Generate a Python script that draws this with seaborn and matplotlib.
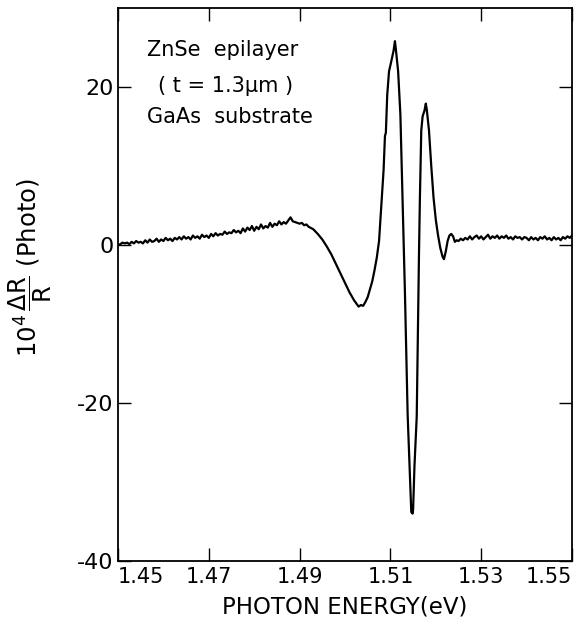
import matplotlib
matplotlib.use("Agg")
import matplotlib.pyplot as plt
import seaborn as sns
import pandas as pd

# ---- data ----
energy_eV = [
    1.4500, 1.4505, 1.4510, 1.4515, 1.4520, 1.4525, 1.4530, 1.4535, 1.4540, 1.4545,
    1.4550, 1.4555, 1.4560, 1.4565, 1.4570, 1.4575, 1.4580, 1.4585, 1.4590, 1.4595,
    1.4600, 1.4605, 1.4610, 1.4615, 1.4620, 1.4625, 1.4630, 1.4635, 1.4640, 1.4645,
    1.4650, 1.4655, 1.4660, 1.4665, 1.4670, 1.4675, 1.4680, 1.4685, 1.4690, 1.4695,
    1.4700, 1.4705, 1.4710, 1.4715, 1.4720, 1.4725, 1.4730, 1.4735, 1.4740, 1.4745,
    1.4750, 1.4755, 1.4760, 1.4765, 1.4770, 1.4775, 1.4780, 1.4785, 1.4790, 1.4795,
    1.4800, 1.4805, 1.4810, 1.4815, 1.4820, 1.4825, 1.4830, 1.4835, 1.4840, 1.4845,
    1.4850, 1.4855, 1.4860, 1.4865, 1.4870, 1.4875, 1.4880, 1.4885,
    1.4890, 1.4900, 1.4905, 1.4910, 1.4915, 1.4920, 1.4930, 1.4940, 1.4950, 1.4960, 1.4970,
    1.4980, 1.4990, 1.5000, 1.5010, 1.5020, 1.5030, 1.5035, 1.5040, 1.5045, 1.5050,
    1.5055, 1.5060, 1.5065, 1.5070, 1.5075, 1.5080, 1.5085, 1.5088, 1.5090, 1.5093,
    1.5097, 1.5101, 1.5107, 1.5110, 1.5112, 1.5117, 1.5122, 1.5127, 1.5132, 1.5138,
    1.5144, 1.5146, 1.5149, 1.5150, 1.5153, 1.5158, 1.5161, 1.5163, 1.5165, 1.5168,
    1.5171, 1.5175, 1.5178, 1.5180, 1.5185, 1.5190, 1.5195, 1.5200, 1.5205, 1.5210,
    1.5215, 1.5218, 1.5222, 1.5226, 1.5230, 1.5234, 1.5238, 1.5242, 1.5246, 1.5250,
    1.5255, 1.5260, 1.5265, 1.5270, 1.5275, 1.5280, 1.5285, 1.5290, 1.5295, 1.5300,
    1.5305, 1.5310, 1.5315, 1.5320, 1.5325, 1.5330, 1.5335, 1.5340, 1.5345, 1.5350,
    1.5355, 1.5360, 1.5365, 1.5370, 1.5375, 1.5380, 1.5385, 1.5390, 1.5395, 1.5400,
    1.5405, 1.5410, 1.5415, 1.5420, 1.5425, 1.5430, 1.5435, 1.5440, 1.5445, 1.5450,
    1.5455, 1.5460, 1.5465, 1.5470, 1.5475, 1.5480, 1.5485, 1.5490, 1.5495, 1.5500,
]
dR_over_R_1e4 = [
    0.0, 0.1, 0.3, 0.2, 0.3, 0.1, 0.4, 0.2, 0.5, 0.3,
    0.4, 0.2, 0.6, 0.3, 0.7, 0.4, 0.5, 0.8, 0.4, 0.7,
    0.5, 0.9, 0.6, 0.8, 0.5, 0.9, 0.7, 1.0, 0.7, 1.1,
    0.8, 1.0, 0.7, 1.2, 0.9, 1.1, 0.8, 1.3, 1.0, 1.2,
    0.9, 1.4, 1.1, 1.5, 1.2, 1.4, 1.3, 1.7, 1.4, 1.6,
    1.5, 1.9, 1.6, 1.8, 1.5, 2.1, 1.7, 2.2, 1.9, 2.4,
    1.8, 2.3, 2.0, 2.6, 2.1, 2.4, 2.2, 2.8, 2.3, 2.7,
    2.5, 3.0, 2.6, 2.9, 2.7, 3.1, 3.5, 3.0,
    2.9, 2.7, 2.8, 2.5, 2.6, 2.3, 2.0, 1.4, 0.7, -0.2, -1.2,
    -2.4, -3.6, -4.8, -6.0, -7.0, -7.8, -7.6, -7.7, -7.2, -6.6,
    -5.6, -4.6, -3.2, -1.6, 0.5, 5.0, 9.5, 13.8, 14.2, 19.0,
    22.0, 23.0, 24.6, 25.8, 24.8, 22.0, 16.5, 5.0, -6.0, -21.5,
    -31.0, -33.8, -34.0, -33.5, -28.0, -21.7, -9.0, -1.0, 6.0, 14.5,
    16.3, 17.0, 17.9, 17.2, 14.5, 10.0, 6.0, 3.2, 1.2, -0.4,
    -1.5, -1.8, -0.8, 0.5, 1.2, 1.4, 1.1, 0.4, 0.6, 0.5,
    0.8, 0.6, 0.9, 0.7, 1.1, 0.7, 1.0, 1.2, 0.8, 1.1,
    0.7, 1.0, 1.3, 0.8, 1.1, 0.9, 1.2, 0.8, 1.1, 0.9,
    1.2, 0.8, 1.0, 0.7, 1.1, 0.9, 1.0, 0.7, 1.0, 0.9,
    0.6, 1.0, 0.7, 0.9, 0.6, 1.0, 0.8, 1.1, 0.7, 0.9,
    0.6, 1.0, 0.7, 0.9, 0.6, 1.0, 0.8, 1.1, 0.9, 1.2,
]
x_ticks = [1.45, 1.47, 1.49, 1.51, 1.53, 1.55]
x_tick_labels = ["1.45", "1.47", "1.49", "1.51", "1.53", "1.55"]
y_ticks = [-40, -20, 0, 20]
y_tick_labels = ["-40", "-20", "0", "20"]
annotation_lines = ["ZnSe  epilayer", "( t = 1.3\u03bcm )", "GaAs  substrate"]

df = pd.DataFrame({"energy": energy_eV, "signal": dR_over_R_1e4})

sns.set_style("ticks")
plt.rcParams["font.family"] = ["DejaVu Sans"]
plt.rcParams["axes.unicode_minus"] = False
plt.rcParams["mathtext.fontset"] = "dejavusans"

fig = plt.figure(figsize=(5.84, 6.31), dpi=100)
ax = fig.add_axes([118 / 584, 1 - 561 / 631, (572 - 118) / 584, (561 - 8) / 631])

sns.lineplot(data=df, x="energy", y="signal", ax=ax, color="black",
             linewidth=1.6, sort=False, estimator=None)

ax.set_xlim(1.45, 1.55)
ax.set_ylim(-40, 30)
ax.set_xticks(x_ticks)
ax.set_xticklabels(x_tick_labels, fontsize=15)
ax.set_yticks(y_ticks)
ax.set_yticklabels(y_tick_labels, fontsize=16)
ax.tick_params(direction="in", top=True, right=True, length=9.5, width=1.0,
               color="black", labelcolor="black")
ax.tick_params(axis="x", pad=4)
ax.tick_params(axis="y", pad=3)
xl = ax.get_xticklabels()
xl[0].set_ha("left")
xl[-1].set_ha("right")

for s in ax.spines.values():
    s.set_visible(True)
    s.set_color("black")
    s.set_linewidth(1.3)

ax.set_xlabel("PHOTON ENERGY(eV)", fontsize=16.5, color="black")
ax.set_ylabel(r"$10^4\,\dfrac{\mathrm{\Delta R}}{\mathrm{R}}$ (Photo)",
              fontsize=17.5, color="black")
ax.xaxis.set_label_coords(0.5, -0.062)
ax.yaxis.set_label_coords(-0.14, 0.53)

for txt, xa, ya in zip(annotation_lines, [0.064, 0.088, 0.064], [0.924, 0.859, 0.803]):
    ax.text(xa, ya, txt, transform=ax.transAxes, fontsize=15, va="center",
            ha="left", color="black")

fig.savefig("out.png", dpi=100, facecolor="white")
